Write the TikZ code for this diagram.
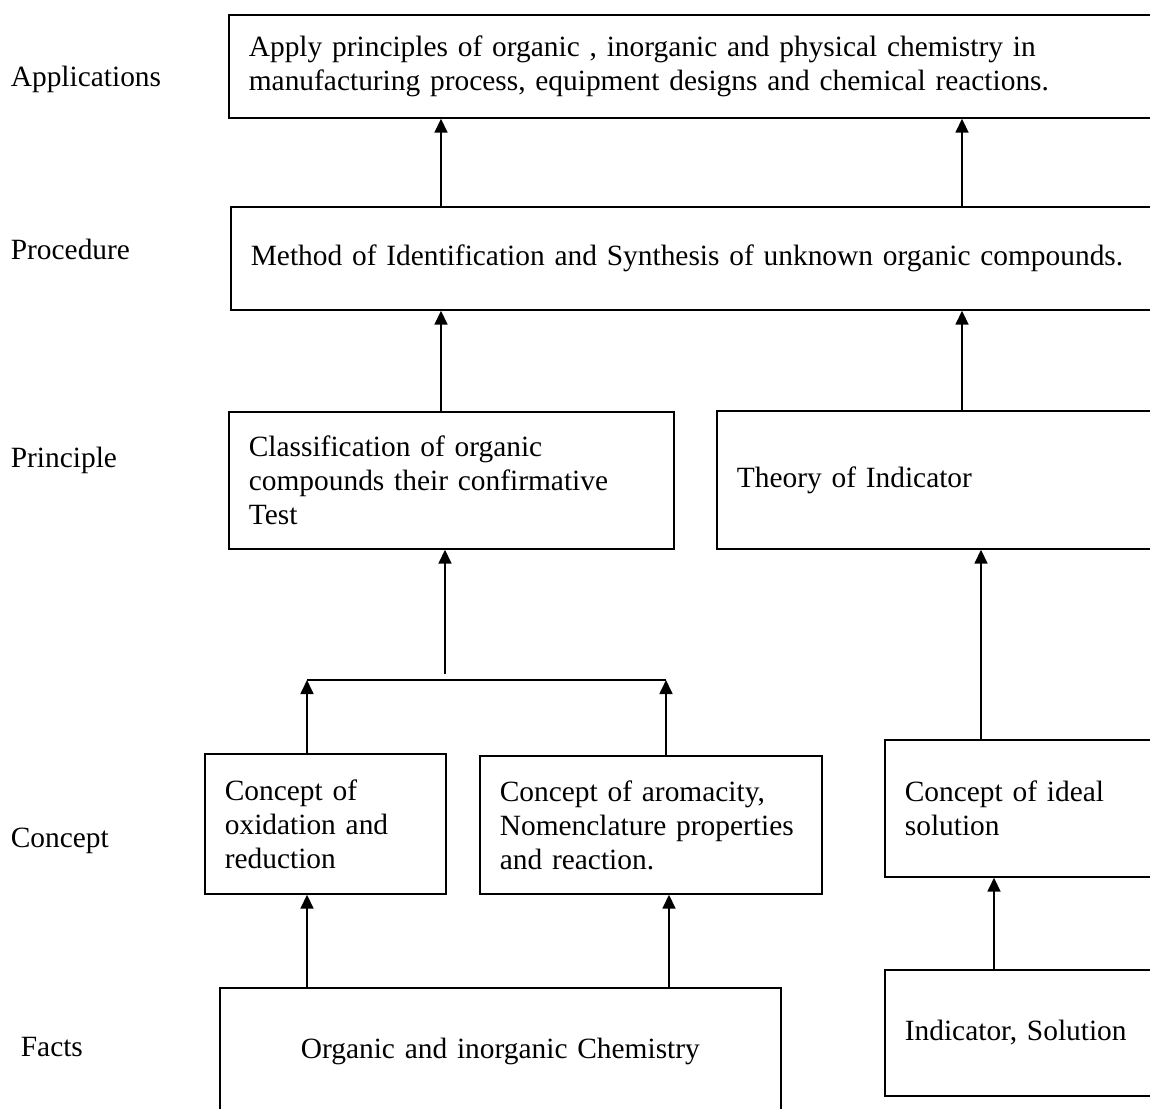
\documentclass[tikz,border=0pt]{standalone}
\usepackage{fontspec}
\setmainfont{Liberation Serif}
\usetikzlibrary{arrows.meta}

\begin{document}
\begin{tikzpicture}[x=1pt, y=-1pt, line width=1.7pt,
    every node/.style={font=\fontsize{29.4}{34}\selectfont},
    level/.style={anchor=base west, inner sep=0pt},
    box/.style={draw, anchor=north west, align=left, inner xsep=20pt, inner ysep=0pt},
    arr/.style={-{Triangle[length=14pt, width=13pt]}}]
  \useasboundingbox (0,0) rectangle (1150,1108);
  \clip (0,0) rectangle (1150,1108);
  % level names
  \node[level] (lapp) at (10,86) {Applications};
  \node[level] (lproc) at (10,259) {Procedure};
  \node[level] (lprin) at (10,467) {Principle};
  \node[level] (lcon) at (10,847) {Concept};
  \node[level] (lfact) at (20,1056) {Facts};
  % boxes
  \node[box, text width=900pt, minimum height=103pt] (app) at (228,14)
    {Apply principles of organic , inorganic and physical chemistry in\\
     manufacturing process, equipment designs and chemical reactions.};
  \node[box, text width=900pt, minimum height=103pt] (proc) at (230,206)
    {Method of Identification and Synthesis of unknown organic compounds.};
  \node[box, text width=405pt, minimum height=137pt] (cls) at (228,411)
    {Classification of organic\\ compounds their confirmative\\ Test};
  \node[box, text width=500pt, minimum height=138pt] (theory) at (716,410)
    {Theory of Indicator};
  \node[box, text width=201pt, minimum height=140pt] (ox) at (204,753)
    {Concept of\\ oxidation and\\ reduction};
  \node[box, text width=302pt, minimum height=138pt] (arom) at (479,755)
    {Concept of aromacity,\\ Nomenclature properties\\ and reaction.};
  \node[box, text width=400pt, minimum height=137pt] (ideal) at (884,739)
    {Concept of ideal\\ solution};
  \node[box, align=center, text width=521pt, minimum height=128pt] (orgchem) at (219,987)
    {Organic and inorganic Chemistry};
  \node[box, text width=400pt, minimum height=126pt] (ind) at (884,969)
    {Indicator, Solution};
  % joining bar
  \coordinate (barL) at (307,680);
  \coordinate (barR) at (666,680);
  \coordinate (barM) at (445,674);
  % arrows
  \draw[arr] (proc.north -| 441,0) -- (app.south -| 441,0);
  \draw[arr] (proc.north -| 962,0) -- (app.south -| 962,0);
  \draw[arr] (cls.north -| 441,0) -- (proc.south -| 441,0);
  \draw[arr] (theory.north -| 962,0) -- (proc.south -| 962,0);
  \draw[arr] (barM) -- (cls.south -| barM);
  \draw (barL) -- (barR);
  \draw[arr] (ox.north -| barL) -- (barL);
  \draw[arr] (arom.north -| barR) -- (barR);
  \draw[arr] (ideal.north -| 981,0) -- (theory.south -| 981,0);
  \draw[arr] (ind.north -| 994,0) -- (ideal.south -| 994,0);
  \draw[arr] (orgchem.north -| 307,0) -- (ox.south -| 307,0);
  \draw[arr] (orgchem.north -| 669,0) -- (arom.south -| 669,0);
\end{tikzpicture}
\end{document}
